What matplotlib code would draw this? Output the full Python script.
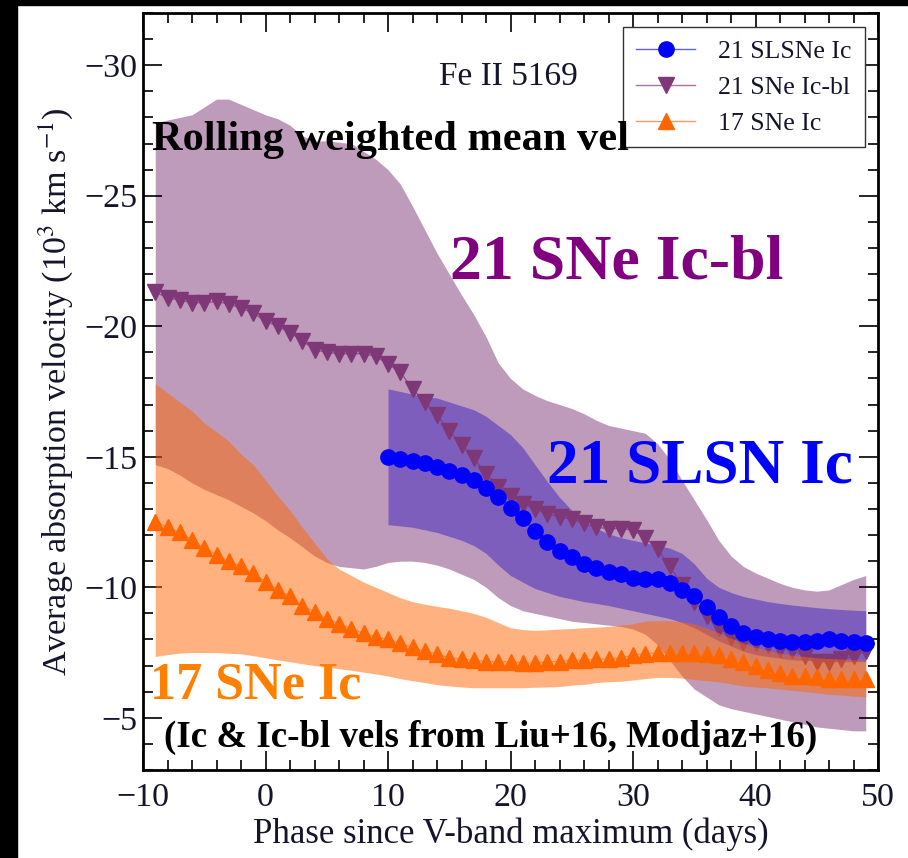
import matplotlib
matplotlib.use("Agg")
import matplotlib.pyplot as plt
from matplotlib.patches import Rectangle
from matplotlib.ticker import MultipleLocator

plt.rcParams["font.family"] = ["Liberation Serif", "DejaVu Serif"]
plt.rcParams["mathtext.fontset"] = "stix"

# rolling weighted mean velocities (10^3 km/s)
phase = list(range(-9, 50))
icbl_mean = [-21.3, -21.1, -21.0, -20.9, -20.9, -20.95, -20.85, -20.7, -20.5, -20.2,
             -20.0, -19.75, -19.45, -19.1, -19.0, -18.95, -18.95, -18.95, -18.85, -18.55,
             -18.25, -17.6, -17.1, -16.6, -16.0, -15.45, -14.95, -14.35, -13.85, -13.5,
             -13.2, -13.0, -12.8, -12.7, -12.6, -12.45, -12.3, -12.25, -12.25, -12.2,
             -11.9, -11.45, -10.8, -10.1, -9.45, -8.9, -8.45, -8.1, -7.9, -7.85,
             -7.8, -7.65, -7.6, -7.35, -7.15, -7.15, -7.25, -7.35, -7.55]
icbl_hi = [-27.8, -27.9, -28.0, -28.1, -28.4, -28.7, -28.7, -28.5, -28.3, -28.1,
           -27.95, -27.7, -27.3, -27.1, -27.1, -27.05, -27.0, -26.7, -26.4, -26.0,
           -25.45, -24.6, -23.7, -22.8, -22.0, -21.2, -20.45, -19.6, -18.6, -18.0,
           -17.6, -17.35, -17.15, -17.0, -16.85, -16.65, -16.4, -16.2, -16.1, -16.0,
           -15.9, -15.5, -14.9, -14.1, -13.35, -12.6, -11.8, -11.2, -10.8, -10.55,
           -10.35, -10.15, -10.0, -9.9, -9.85, -9.9, -10.1, -10.3, -10.45]
icbl_lo = [-14.7, -14.55, -14.3, -14.0, -13.75, -13.55, -13.35, -13.1, -12.85, -12.55,
           -12.2, -11.9, -11.55, -11.2, -10.95, -10.8, -10.75, -10.7, -10.8, -10.95,
           -11.0, -11.0, -10.95, -10.85, -10.7, -10.5, -10.3, -10.0, -9.6, -9.3,
           -9.1, -9.0, -8.9, -8.8, -8.7, -8.65, -8.6, -8.55, -8.5, -8.4,
           -8.2, -7.8, -7.2, -6.6, -6.1, -5.8, -5.5, -5.35, -5.25, -5.15,
           -5.05, -4.95, -4.85, -4.75, -4.65, -4.6, -4.55, -4.5, -4.5]

ic_mean = [-12.5, -12.3, -12.1, -11.8, -11.5, -11.25, -11.0, -10.8, -10.55, -10.2,
           -9.9, -9.65, -9.3, -9.05, -8.8, -8.6, -8.4, -8.25, -8.1, -8.0,
           -7.85, -7.7, -7.55, -7.45, -7.3, -7.25, -7.2, -7.15, -7.15, -7.15,
           -7.1, -7.1, -7.15, -7.15, -7.2, -7.2, -7.25, -7.25, -7.3, -7.4,
           -7.45, -7.5, -7.5, -7.5, -7.5, -7.45, -7.4, -7.25, -7.15, -7.0,
           -6.85, -6.7, -6.6, -6.6, -6.55, -6.5, -6.5, -6.5, -6.5]
ic_hi = [-17.8, -17.45, -17.1, -16.75, -16.3, -15.95, -15.6, -15.1, -14.7, -14.1,
         -13.5, -12.95, -12.3, -11.7, -11.1, -10.7, -10.45, -10.2, -10.0, -9.8,
         -9.6, -9.45, -9.35, -9.27, -9.2, -9.1, -9.0, -8.85, -8.65, -8.45,
         -8.38, -8.35, -8.37, -8.4, -8.42, -8.45, -8.47, -8.5, -8.55, -8.6,
         -8.7, -8.72, -8.72, -8.68, -8.6, -8.45, -8.25, -8.05, -7.85, -7.7,
         -7.58, -7.48, -7.4, -7.35, -7.3, -7.27, -7.25, -7.22, -7.2]
ic_lo = [-7.35, -7.42, -7.48, -7.5, -7.5, -7.5, -7.47, -7.45, -7.38, -7.3,
         -7.22, -7.15, -7.07, -7.0, -6.95, -6.88, -6.82, -6.75, -6.68, -6.6,
         -6.5, -6.42, -6.35, -6.27, -6.22, -6.18, -6.15, -6.15, -6.15, -6.15,
         -6.15, -6.17, -6.18, -6.2, -6.25, -6.28, -6.35, -6.38, -6.4, -6.45,
         -6.5, -6.55, -6.55, -6.52, -6.47, -6.42, -6.38, -6.3, -6.22, -6.18,
         -6.15, -6.1, -6.05, -6.0, -5.95, -5.9, -5.87, -5.83, -5.8]

slsn_phase = list(range(10, 50))
slsn_mean = [-15.0, -14.9, -14.85, -14.75, -14.6, -14.45, -14.3, -14.1, -13.8, -13.45,
             -13.05, -12.65, -12.15, -11.75, -11.4, -11.15, -10.9, -10.75, -10.6, -10.5,
             -10.35, -10.3, -10.3, -10.15, -9.9, -9.65, -9.25, -8.85, -8.5, -8.25,
             -8.1, -8.0, -7.95, -7.9, -7.9, -7.95, -8.0, -7.95, -7.9, -7.85]
slsn_hi = [-17.6, -17.5, -17.4, -17.3, -17.25, -17.1, -16.95, -16.8, -16.55, -16.2,
           -15.85, -15.35, -14.7, -14.05, -13.45, -12.95, -12.55, -12.25, -12.05, -11.9,
           -11.8, -11.7, -11.6, -11.5, -11.3, -10.9, -10.35, -10.0, -9.8, -9.65,
           -9.55, -9.45, -9.38, -9.32, -9.27, -9.22, -9.18, -9.15, -9.12, -9.1]
slsn_lo = [-12.4, -12.35, -12.3, -12.2, -12.1, -11.95, -11.8, -11.6, -11.3, -10.85,
           -10.45, -10.2, -9.95, -9.8, -9.65, -9.55, -9.45, -9.38, -9.3, -9.2,
           -9.1, -9.0, -8.9, -8.8, -8.65, -8.45, -8.2, -7.95, -7.75, -7.55,
           -7.42, -7.35, -7.28, -7.22, -7.2, -7.17, -7.15, -7.15, -7.15, -7.15]

PURPLE = "#7f3877"
ORANGE = "#ff6600"
BLUE = "#0000ff"
INK = "#14142b"

fig = plt.figure(figsize=(9.08, 8.58), dpi=100)
ax = fig.add_axes([143 / 908, 1 - 770 / 858, 735 / 908, 757 / 858])

ax.fill_between(phase, icbl_lo, icbl_hi, color=PURPLE, alpha=0.5, lw=0, zorder=1)
ax.fill_between(slsn_phase, slsn_lo, slsn_hi, color="#3f23bf", alpha=0.5, lw=0, zorder=2)
ax.plot(phase, icbl_mean, color=(0.5, 0.22, 0.47, 0.7), lw=1, marker="v", ms=11,
        mfc=PURPLE, mec=PURPLE, label="21 SNe Ic-bl", zorder=3)
ax.fill_between(phase, ic_lo, ic_hi, color=ORANGE, alpha=0.5, lw=0, zorder=4)
ax.plot(slsn_phase, slsn_mean, color=(0.2, 0.2, 1.0, 0.8), lw=1, marker="o", ms=11,
        mfc=BLUE, mec=BLUE, label="21 SLSNe Ic", zorder=5)
ax.plot(phase, ic_mean, color=(1.0, 0.5, 0.2, 0.8), lw=1, marker="^", ms=11,
        mfc=ORANGE, mec=ORANGE, label="17 SNe Ic", zorder=6)

ax.set_xlim(-10, 50)
ax.set_ylim(-3, -32)
ax.xaxis.set_major_locator(MultipleLocator(10))
ax.xaxis.set_minor_locator(MultipleLocator(2))
ax.yaxis.set_major_locator(MultipleLocator(5))
ax.yaxis.set_minor_locator(MultipleLocator(1))
ax.tick_params(which="both", direction="in", top=True, right=True, width=1.2,
               labelsize=24.5, labelcolor=INK)
ax.tick_params(which="major", length=14)
ax.tick_params(which="minor", length=7)
ax.tick_params(axis="x", pad=9)
ax.tick_params(axis="y", pad=4)
for sp in ax.spines.values():
    sp.set_linewidth(2)

ax.set_xlabel("Phase since V-band maximum (days)", fontsize=25, color=INK, labelpad=3)
ax.set_ylabel("Average absorption velocity (10$^3$ km s$^{-1}$)", fontsize=24.5,
              color=INK, labelpad=6)

ax.text(19.8, -29.57, "Fe II 5169", fontsize=24, color=INK, ha="center", va="center")
ax.text(-9.3, -27.15, "Rolling weighted mean vel", fontsize=30.5, fontweight="bold",
        color="black", ha="left", va="center", zorder=10)
ax.text(15.1, -22.4, "21 SNe Ic-bl", fontsize=46, fontweight="bold", color="#800080",
        ha="left", va="center", zorder=10)
ax.text(23.0, -14.6, "21 SLSN Ic", fontsize=45.5, fontweight="bold", color=BLUE,
        ha="left", va="center", zorder=10)
ax.text(-9.45, -6.25, "17 SNe Ic", fontsize=37.5, fontweight="bold", color="#ff8000",
        ha="left", va="center", zorder=10)
ax.text(-8.25, -4.25, "(Ic & Ic-bl vels from Liu+16, Modjaz+16)", fontsize=26.6,
        fontweight="bold", color="black", ha="left", va="center", zorder=10)

handles, labels = ax.get_legend_handles_labels()
order = [1, 0, 2]
leg = ax.legend([handles[i] for i in order], [labels[i] for i in order],
                loc="upper right", bbox_to_anchor=(0.982, 0.9815), borderaxespad=0,
                fontsize=18.5, fancybox=False, framealpha=1, edgecolor="#333333",
                handlelength=2.3, handletextpad=0.9, labelspacing=0.5, borderpad=0.5)
leg.get_frame().set_linewidth(1)
for t in leg.get_texts():
    t.set_color(INK)

# black frame strips on the left and top of the picture
fig.add_artist(Rectangle((0, 0), 17 / 908, 1, transform=fig.transFigure,
                         color="black", zorder=20))
fig.add_artist(Rectangle((0, 1 - 5 / 858), 1, 5 / 858, transform=fig.transFigure,
                         color="black", zorder=20))

fig.savefig("out.png", dpi=100)
